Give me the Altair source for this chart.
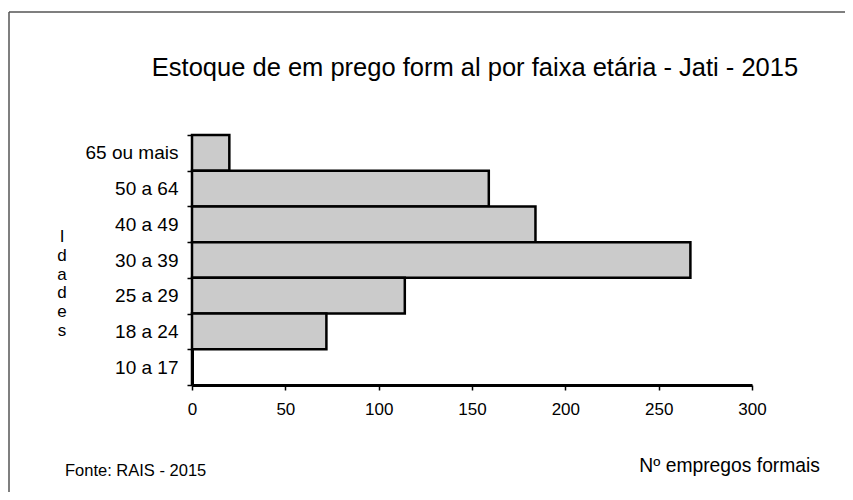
import altair as alt
import pandas as pd

categorias = ["65 ou mais", "50 a 64", "40 a 49", "30 a 39", "25 a 29", "18 a 24", "10 a 17"]
empregos = [20, 159, 184, 267, 114, 72, 0]
x_ticks = [0, 50, 100, 150, 200, 250, 300]

titulo = "Estoque de em prego form al por faixa etária - Jati - 2015"
eixo_y_titulo = "I\nd\na\nd\ne\ns"
fonte_txt = "Fonte: RAIS - 2015"
eixo_x_titulo = "Nº empregos formais"

FONT = "Liberation Sans"

df = pd.DataFrame({"faixa": categorias, "n": empregos})

x_scale = alt.Scale(domain=[0, 300], nice=False)
y_scale = alt.Scale(domain=categorias, paddingInner=0, paddingOuter=0)

bars = alt.Chart(df).mark_bar(
    color="#cbcbcb", stroke="black", strokeWidth=2.5
).encode(
    x=alt.X("n:Q", scale=x_scale,
            axis=alt.Axis(values=x_ticks, title=None, grid=False, domainColor="black",
                          domainWidth=3, tickColor="black", tickSize=5, tickWidth=1.5,
                          labelFont=FONT, labelFontSize=17, labelColor="black",
                          labelPadding=11, labelFlush=False)),
    y=alt.Y("faixa:N", scale=y_scale, sort=categorias,
            axis=alt.Axis(title=None, domainColor="black", domainWidth=3, tickBand="extent",
                          tickColor="black", tickSize=5, tickWidth=1.5, labelFont=FONT,
                          labelFontSize=19, labelColor="black", labelPadding=9)),
)

def txt(text, x, y, size, align="center", baseline="middle", **kw):
    return alt.Chart(pd.DataFrame({"t": [text]})).mark_text(
        font=FONT, fontSize=size, color="black", align=align, baseline=baseline, **kw
    ).encode(text="t:N", x=alt.value(x), y=alt.value(y))

title_t = txt(titulo, 283, -67, 25.5)
ytitle = alt.Chart(pd.DataFrame({"t": [eixo_y_titulo]})).mark_text(
    font=FONT, fontSize=17, color="black", align="center", baseline="middle",
    lineBreak="\n", lineHeight=18.8
).encode(text="t:N", x=alt.value(-130), y=alt.value(102))
fonte = txt(fonte_txt, -127, 336, 16.5, align="left")
xtitle = txt(eixo_x_titulo, 628, 331, 19.3, align="right")

frame_top = alt.Chart(pd.DataFrame({"a": [0]})).mark_rule(color="#555555", strokeWidth=1.5).encode(
    x=alt.value(-183), x2=alt.value(653), y=alt.value(-123))
frame_left = alt.Chart(pd.DataFrame({"a": [0]})).mark_rule(color="#555555", strokeWidth=1.5).encode(
    x=alt.value(-183), y=alt.value(-123), y2=alt.value(357))

chart = alt.layer(frame_top, frame_left, bars, title_t, ytitle, fonte, xtitle).properties(
    width=560, height=250,
    view=alt.ViewBackground(strokeWidth=0, strokeOpacity=0),
    autosize=alt.AutoSizeParams(type="none"),
    padding={"left": 184, "top": 127, "right": 93, "bottom": 107},
).configure_view(strokeWidth=0, strokeOpacity=0).configure(background="white")

chart.save("out.html", embed_options={"renderer": "svg", "actions": False})
